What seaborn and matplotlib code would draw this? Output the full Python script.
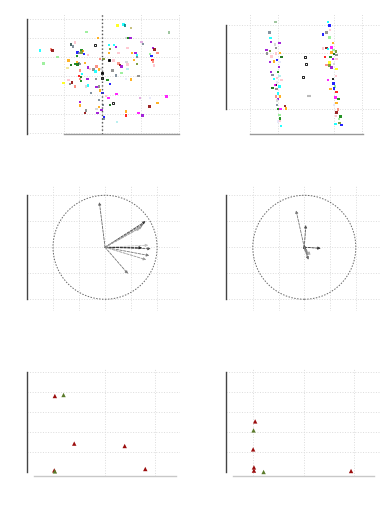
import matplotlib
matplotlib.use("Agg")
import matplotlib.pyplot as plt
import seaborn as sns
import pandas as pd

# ---- panel 1: individual scores, factor map ----
x1 = [0.40, 0.55, 0.59, 0.75, -0.41, 1.75, -0.12, 0.63, 0.68, 0.74,
      -0.82, -0.77, -0.71, 0.17, 0.31, 0.36, 0.20, 0.66, 1.02, 1.07,
      1.33, 1.36, -1.63, -1.34, -1.30, -0.55, -0.51, -0.54, -0.65, -0.61,
      -0.48, -0.67, -0.38, 0.17, 0.42, 0.77, 0.87, 0.91, 1.24, 1.29,
      1.44, 0.90, -1.17, -0.89, -0.67, -0.61, -0.71, -0.65, -0.58, -0.45,
      -0.06, 0.03, 0.29, 0.42, 0.46, 0.50, 0.63, 0.66, 0.83, 0.91,
      1.31, 1.33, 1.35, -1.54, -0.82, -0.91, -0.37, -0.32, -0.23, -0.15,
      -0.03, 0.26, 0.66, -0.58, -0.18, -0.08, -0.53, -0.61, -0.56, -0.58,
      -0.39, -0.17, 0.13, 0.36, 0.50, 0.62, 0.75, 0.95, -0.89, -1.02,
      -0.84, -0.80, -0.56, -0.43, -0.37, -0.15, -0.08, 0.20, -0.71, -0.06,
      -0.30, 0.00, 0.10, 0.37, 0.16, -0.09, 0.98, 1.24, 1.68, -0.58,
      -0.58, -0.09, 0.01, 0.20, 1.23, 1.44, -0.43, -0.15, -0.02, -0.45,
      -0.13, 0.62, 0.62, 0.94, 1.05, 0.05, 0.03, 0.39]
y1 = [1.67, 1.72, 1.67, 1.53, 1.33, 1.30, 1.02, 1.02, 1.00, 1.02,
      0.67, 0.56, 0.77, 0.65, 0.65, 0.53, 0.44, 0.49, 0.79, 0.70,
      0.49, 0.40, 0.35, 0.40, 0.35, 0.39, 0.32, 0.26, 0.26, 0.21,
      0.18, 0.05, 0.12, 0.23, 0.23, 0.23, 0.23, 0.09, 0.18, 0.05,
      0.21, 0.00, 0.00, -0.18, -0.26, -0.30, -0.35, -0.39, -0.35, -0.30,
      -0.09, -0.09, -0.18, -0.32, -0.40, -0.49, -0.26, -0.39, -0.14, -0.35,
      -0.14, -0.23, -0.44, -0.33, -0.40, -0.58, -0.53, -0.61, -0.65, -0.49,
      -0.61, -0.70, -0.61, -0.70, -0.75, -0.65, -0.88, -1.00, -1.05, -1.14,
      -1.14, -1.14, -1.21, -0.96, -0.82, -1.14, -1.18, -1.00, -1.19, -1.37,
      -1.40, -1.32, -1.26, -1.53, -1.49, -1.58, -1.53, -1.40, -1.53, -1.75,
      -1.88, -1.88, -2.05, -1.93, -2.16, -2.25, -2.16, -2.14, -2.07, -2.35,
      -2.54, -2.63, -2.51, -2.51, -2.60, -2.40, -2.81, -2.72, -2.77, -2.95,
      -2.95, -2.86, -3.07, -2.95, -3.07, -3.16, -3.25, -3.42]
c1 = ["yellow", "cyan", "teal", "darkkhaki", "lightgreen", "darkseagreen", "orange", "lightgray", "green", "darkviolet",
      "darkslategray", "slategray", "pink", "cyan", "cyan", "darkviolet", "olivedrab", "pink", "plum", "slategray",
      "darkviolet", "darkred", "cyan", "salmon", "darkred", "green", "darkorange", "olivedrab", "blue", "slategray",
      "blue", "green", "pink", "orange", "pink", "orange", "darkviolet", "cyan", "lightgreen", "blue",
      "salmon", "slategray", "lightgreen", "orange", "orange", "slategray", "green", "darkgreen", "gray", "orange",
      "salmon", "olivedrab", "pink", "salmon", "darkred", "darkviolet", "lightgray", "pink", "orange", "olivedrab",
      "red", "salmon", "pink", "lightgreen", "darkgreen", "khaki", "darkviolet", "pink", "gray", "salmon",
      "lightgray", "gray", "paleturquoise", "salmon", "cyan", "orange", "cyan", "red", "darkgreen", "salmon",
      "darkviolet", "gray", "green", "slategray", "lightgreen", "lavender", "orange", "gray", "pink", "yellow",
      "gray", "darkred", "green", "lightgray", "cyan", "darkviolet", "gray", "blue", "salmon", "orange",
      "slategray", "blue", "pink", "magenta", "magenta", "slategray", "plum", "lavender", "magenta", "darkviolet",
      "orange", "orange", "slategray", "darkgreen", "darkred", "orange", "gray", "lightgray", "darkviolet", "darkred",
      "darkviolet", "orange", "red", "magenta", "darkviolet", "blue", "slategray", "paleturquoise"]
# group centres panel 1
cx1 = [-0.02, -0.02, -0.19, 0.29, 0.18]
cy1 = [-0.84, -1.11, 0.65, -2.42, -0.12]
cfill1 = [True, True, False, False, True]

# ---- panel 2: scores against a two-level factor ----
x2 = [-0.05, -0.16, -0.14, -0.13, -0.06, 0.02, -0.04, -0.15, -0.21, -0.20,
      -0.04, 0.03, -0.12, 0.06, -0.02, -0.15, -0.08, 0.03, 0.01, -0.13,
      0.00, -0.10, 0.02, -0.02, -0.08, 0.06, -0.02, -0.04, -0.06, 0.02,
      -0.10, -0.03, -0.01, -0.04, 0.03, 0.00, -0.02, 0.12, -0.02, 0.14,
      0.00, 0.04, 0.02, 0.03, 0.02, 0.05, 0.00,
      0.90, 0.92, 0.93, 0.87, 0.80, 0.92, 0.98, 0.96, 0.87, 0.81,
      0.90, 0.99, 1.04, 0.96, 1.00, 0.94, 0.84, 1.05, 0.98, 1.05,
      0.92, 1.00, 0.87, 0.92, 1.05, 0.96, 1.04, 0.98, 0.90, 0.99,
      1.02, 1.00, 1.05, 0.94, 1.03, 1.08, 1.05, 1.00, 1.07, 1.05,
      1.04, 1.12, 1.09, 1.03, 1.14, 1.10]
y2 = [1.11, 0.74, 0.54, 0.40, 0.30, 0.36, 0.19, 0.08, 0.12, -0.01,
      -0.01, 0.00, -0.12, -0.15, -0.25, -0.31, -0.30, -0.31, -0.50, -0.67,
      -0.67, -0.79, -0.81, -0.89, -0.93, -0.96, -1.05, -1.14, -1.14, -1.19,
      -1.25, -1.29, -1.45, -1.55, -1.55, -1.64, -1.70, -1.88, -1.86, -1.98,
      -2.00, -2.00, -2.21, -2.33, -2.42, -2.60, -2.45,
      1.11, 0.98, 0.83, 0.73, 0.67, 0.56, 0.36, 0.20, 0.18, 0.17,
      0.14, 0.12, 0.05, 0.02, -0.04, -0.13, -0.15, -0.07, -0.21, -0.21,
      -0.33, -0.39, -0.42, -0.45, -0.57, -0.51, -0.81, -0.93, -0.96, -1.08,
      -1.19, -1.26, -1.38, -1.29, -1.58, -1.64, -1.79, -1.86, -2.02, -2.12,
      -2.24, -2.26, -2.36, -2.54, -2.57, -2.50]
c2 = ["darkseagreen", "slategray", "cyan", "darkviolet", "lightgray", "darkviolet", "gray", "olivedrab", "darkviolet", "gray",
      "pink", "orange", "pink", "darkgreen", "blue", "darkviolet", "orange", "lavender", "darkviolet", "darkviolet",
      "green", "slategray", "paleturquoise", "pink", "cyan", "pink", "lavender", "black", "magenta", "cyan",
      "darkgreen", "gray", "cyan", "salmon", "orange", "darkviolet", "lightgray", "darkred", "slategray", "orange",
      "green", "magenta", "lightgreen", "green", "pink", "cyan", "lavender",
      "cyan", "blue", "pink", "gray", "blue", "lightgreen", "orange", "magenta", "darkred", "pink",
      "cyan", "lightgreen", "olivedrab", "orange", "darkgreen", "green", "red", "gray", "darkviolet", "pink",
      "yellow", "lightgray", "salmon", "olivedrab", "yellow", "darkviolet", "pink", "black", "magenta", "blue",
      "lightgreen", "blue", "red", "orange", "magenta", "green", "orange", "lavender", "salmon", "darkred",
      "pink", "green", "lightgreen", "cyan", "blue", "olivedrab"]
cx2 = [0.48, 0.50, 0.45]
cy2 = [-0.15, -0.39, -0.85]

# ---- panels 3 and 4: correlation circles ----
ax3_x = [-0.11, 0.78, 0.74, 0.71, 0.67, 0.83, 0.88, 0.71, 0.85, 0.79, 0.44]
ax3_y = [0.87, 0.50, 0.45, 0.40, 0.37, 0.04, -0.03, -0.01, -0.16, -0.24, -0.51]
ax3_c = ["#666666", "#333333", "#777777", "#999999", "#aaaaaa", "#c0c0c0",
         "#555555", "#222222", "#777777", "#999999", "#777777"]
ax4_x = [-0.16, 0.03, 0.32, 0.08, 0.12, 0.03, 0.08, -0.03, 0.05]
ax4_y = [0.71, 0.43, -0.02, -0.16, -0.15, -0.06, -0.24, -0.03, -0.10]
ax4_c = ["#777777", "#555555", "#333333", "#888888", "#aaaaaa",
         "#444444", "#666666", "#555555", "#888888"]

# ---- panels 5 and 6: triangles ----
x5 = [1.02, 1.45, 1.98, 4.48, 5.50, 0.99, 1.02]
y5 = [3.80, 3.85, 1.42, 1.30, 0.15, 0.08, 0.03]
g5 = ["a", "b", "a", "a", "a", "a", "b"]
x6 = [1.09, 1.01, 0.99, 1.03, 1.03, 1.51, 5.86]
y6 = [2.53, 2.08, 1.13, 0.23, 0.07, 0.00, 0.05]
g6 = ["a", "b", "a", "a", "a", "b", "a"]
tri_pal = {"a": "#9b0d0d", "b": "#5a7a2a"}

sns.set_style("white")
W, H = 380, 510
fig = plt.figure(figsize=(3.8, 5.1), dpi=100)


def add_ax(left, right, top, bottom):
    return fig.add_axes([left / W, 1 - bottom / H, (right - left) / W, (bottom - top) / H])


def style(ax, xb=None, yb=None, bottom=True, bcol="#999999"):
    for s in ["top", "right"]:
        ax.spines[s].set_visible(False)
    ax.spines["left"].set_color("#444444")
    ax.spines["left"].set_linewidth(1.0)
    if yb:
        ax.spines["left"].set_bounds(*yb)
    if bottom:
        ax.spines["bottom"].set_color(bcol)
        ax.spines["bottom"].set_linewidth(1.0)
        if xb:
            ax.spines["bottom"].set_bounds(*xb)
    else:
        ax.spines["bottom"].set_visible(False)
    ax.grid(True, ls=":", color="#dcdcdc", lw=0.7)
    ax.tick_params(length=3, width=0.8, color="#888888", labelsize=1,
                   labelcolor="white", pad=0)
    ax.set_xticklabels([])
    ax.set_yticklabels([])
    ax.set_xlabel("")
    ax.set_ylabel("")
    ax.set_facecolor("white")


# panel 1
ax = add_ax(27, 180, 13.6, 135)
df1 = pd.DataFrame({"x": x1, "y": y1, "c": c1})
sns.scatterplot(data=df1, x="x", y="y", hue="c", palette={c: c for c in set(c1)},
                marker="s", s=3, linewidth=0, alpha=0.85, legend=False, ax=ax)
for cx, cy, f in zip(cx1, cy1, cfill1):
    ax.plot(cx, cy, marker="s", ms=2.0, mec="black", mfc="black" if f else "none", mew=0.6)
ax.axvline(0, ls=":", color="#555555", lw=1.0)
ax.set_xlim(-1.97, 2.03)
ax.set_ylim(-4.04, 2.35)
ax.set_xticks([-1, 0, 1, 2])
ax.set_yticks([-4, -3, -2, -1, 0, 1, 2])
style(ax, xb=(-1, 2), yb=(-4.04, 2))

# panel 2
ax = add_ax(226, 380, 13.5, 135)
df2 = pd.DataFrame({"x": x2, "y": y2, "c": c2})
sns.scatterplot(data=df2, x="x", y="y", hue="c", palette={c: c for c in set(c2)},
                marker="s", s=3, linewidth=0, alpha=0.85, legend=False, ax=ax)
ax.scatter(cx2, cy2, marker="s", s=3, facecolors="none", edgecolors="black", linewidths=0.6)
ax.scatter([0.55], [-1.55], marker="_", s=6, color="#bbbbbb")
ax.set_xlim(-0.94, 1.83)
ax.set_ylim(-2.89, 1.45)
ax.set_xticks([-0.5, 0, 1, 1.5])
ax.set_yticks([-2, 0, 1])
style(ax, xb=(-0.51, 1.53), yb=(-2, 1))


def circle_panel(ax, xs, ys, cols):
    ax.add_patch(plt.Circle((0, 0), 1, fill=False, ls=(0, (1.5, 1.5)), color="#666666", lw=0.7))
    for dx, dy, col in zip(xs, ys, cols):
        ax.annotate("", xy=(dx, dy), xytext=(0, 0),
                    arrowprops=dict(arrowstyle="-|>", lw=0.6, ls=(0, (3, 1.5)),
                                    color=col, mutation_scale=4, shrinkA=0, shrinkB=0))
    ax.set_ylim(-1.22, 1.19)
    ax.set_xticks([-1, -0.5, 0, 0.5, 1])
    ax.set_yticks([-1, -0.5, 0, 0.5, 1])
    style(ax, yb=(-1, 1), bottom=False)


ax = add_ax(27, 180, 186.4, 311.7)
ax.set_xlim(-1.5, 1.44)
circle_panel(ax, ax3_x, ax3_y, ax3_c)

ax = add_ax(226, 380, 186.4, 311.7)
ax.set_xlim(-1.52, 1.47)
circle_panel(ax, ax4_x, ax4_y, ax4_c)


def tri_panel(ax, xs, ys, gs, xmax, vlines):
    df = pd.DataFrame({"x": xs, "y": ys, "g": gs})
    sns.scatterplot(data=df, x="x", y="y", hue="g", palette=tri_pal, marker="^",
                    s=10, linewidth=0, legend=False, ax=ax)
    ax.set_xlim(-0.36, xmax)
    ax.set_ylim(-0.2, 5.17)
    ax.set_xticks([0, 1, 2, 3, 4, 5, 6, 7])
    ax.set_yticks([1, 2, 3, 4, 5])
    style(ax, xb=(0, 7), yb=(0, 5), bcol="#c8c8c8")
    ax.grid(False, axis="x")
    for v in vlines:
        ax.axvline(v, ls=":", color="#dcdcdc", lw=0.7, zorder=0)


ax = add_ax(27, 180, 369.6, 477)
tri_panel(ax, x5, y5, g5, 7.22, [3.5, 6.0])

ax = add_ax(226, 380, 369.6, 477)
tri_panel(ax, x6, y6, g6, 7.3, [1.0, 3.5, 6.0])

fig.savefig("out.png", dpi=100)
